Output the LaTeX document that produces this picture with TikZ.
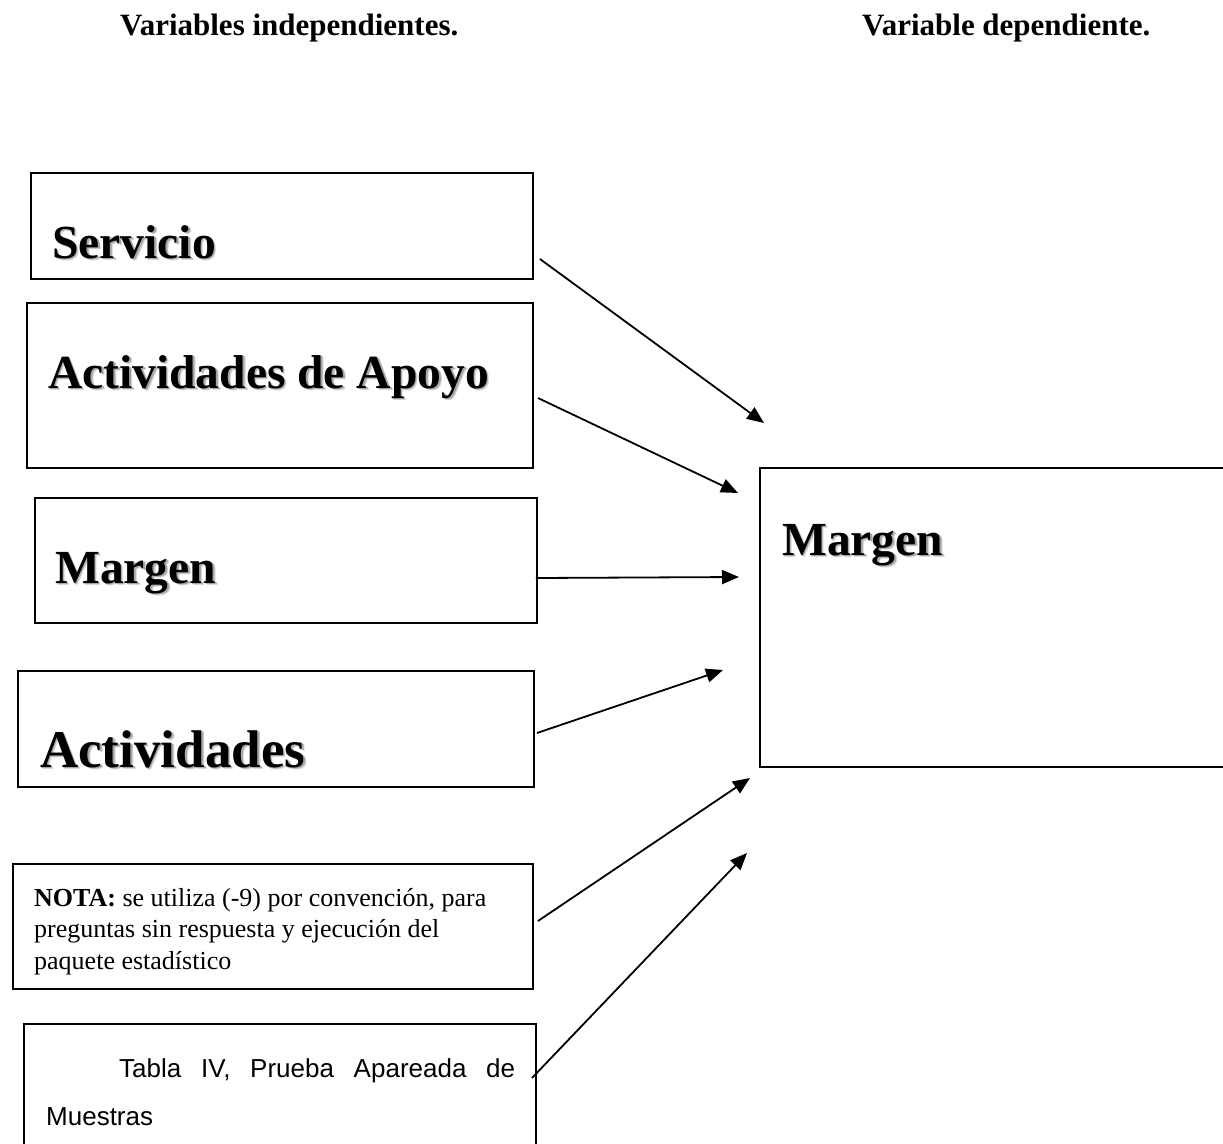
\documentclass[tikz,border=0pt]{standalone}
\usepackage{fontspec}
\setmainfont{Liberation Serif}
\newfontfamily\arialfont{Liberation Sans}
\usetikzlibrary{arrows.meta}
\newcommand{\shad}[1]{\makebox[0pt][l]{\hspace{2.6pt}\raisebox{-2.6pt}{\color{black!15}#1}}\makebox[0pt][l]{\hspace{1.6pt}\raisebox{-1.6pt}{\color{black!35}#1}}#1}
\begin{document}
\begin{tikzpicture}[x=1pt,y=-1pt,
  box/.style={draw, line width=1.9pt, inner sep=0pt},
  big/.style={anchor=base west, inner sep=0pt, font=\fontsize{47.5}{52}\selectfont\bfseries},
  conn/.style={line width=1.8pt, -{Triangle[length=17pt,width=14pt]}},
  head/.style={anchor=base west, inner sep=0pt, font=\fontsize{31}{34}\selectfont\bfseries}]
\useasboundingbox[fill=white] (0,0) rectangle (1223,1143);
% headers
\node[head] (h1) at (120,35) {Variables independientes.};
\node[head] (h2) at (862,35) {Variable dependiente.};
% boxes
\node[box, minimum width=502pt, minimum height=106pt] (serv) at (282,226) {};
\node[box, minimum width=506pt, minimum height=165pt] (apoyo) at (280,385.5) {};
\node[box, minimum width=502pt, minimum height=125pt] (margL) at (286,560.5) {};
\node[box, minimum width=516pt, minimum height=116pt] (activ) at (276,729) {};
\node[box, minimum width=520pt, minimum height=125pt] (nota) at (273,926.5) {};
\node[box, minimum width=512pt, minimum height=124pt] (tabla) at (280,1086) {};
\node[box, minimum width=466pt, minimum height=299pt] (margR) at (993,617.5) {};
% texts
\node[big] (servt) at (52,258) {\shad{Servicio}};
\node[big] (apoyot) at (48,388) {\shad{Actividades de Apoyo}};
\node[big] (margLt) at (55,583) {\shad{Margen}};
\node[big, font=\fontsize{53}{58}\selectfont\bfseries] (activt) at (40,767) {\shad{Actividades}};
\node[big] (margRt) at (782,555) {\shad{Margen}};
\node[anchor=base west, inner sep=0pt] (notat) at (34,906) {\parbox[t]{490pt}{\fontsize{26}{31.5}\selectfont\raggedright\textbf{NOTA:} se utiliza (-9) por convención, para\\ preguntas sin respuesta y ejecución del\\ paquete estadístico}};
\node[anchor=base west, inner sep=0pt] (tablat) at (46,1077) {\parbox[t]{480pt}{\arialfont\fontsize{26}{48}\selectfont\hspace*{73pt}\makebox[396pt][s]{Tabla IV, Prueba Apareada de}\\ Muestras}};
% arrow tips
\coordinate (t1) at (764,423);
\coordinate (t2) at (738,493);
\coordinate (t3) at (739,577);
\coordinate (t4) at (723,670);
\coordinate (t5) at (750,778);
\coordinate (t6) at (747,853);
% connectors
\draw[conn] ([xshift=6pt,yshift=-33pt]serv.east) -- (t1);
\draw[conn] ([xshift=4pt,yshift=-12.5pt]apoyo.east) -- (t2);
\draw[conn] ([xshift=-2pt,yshift=-17.5pt]margL.east) -- (t3);
\draw[conn] ([xshift=2pt,yshift=-4pt]activ.east) -- (t4);
\draw[conn] ([xshift=4pt,yshift=5.5pt]nota.east) -- (t5);
\draw[conn] ([xshift=-5pt,yshift=8pt]tabla.east) -- (t6);
\end{tikzpicture}
\end{document}
